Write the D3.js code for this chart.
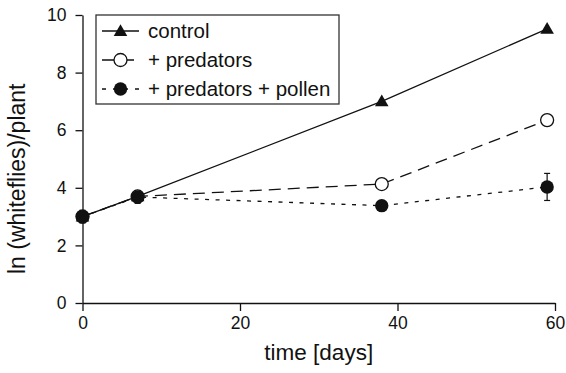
<!DOCTYPE html>
<html>
<head>
  <script src="https://cdn.jsdelivr.net/npm/d3@7/dist/d3.min.js"></script>
  <style>
    body { margin: 0; background: white; }
    text { font-family: Arial, "Liberation Sans", Helvetica, sans-serif; fill: #111; }
  </style>
</head>
<body>
  <script>
    const days = [0, 7, 38, 59]
    const control = [3.0, 3.7, 7.0, 9.52]
    const predators = [3.0, 3.7, 4.13, 6.35]
    const pollen = [3.0, 3.68, 3.38, 4.03]
    const pollenErr = [0.22, 0.22, 0, 0.47]
    const xTicks = [0, 20, 40, 60]
    const yTicks = [0, 2, 4, 6, 8, 10]
    const labels = ['control', '+ predators', '+ predators + pollen']

    const W = 566, H = 373
    const svg = d3.select('body').append('svg')
      .attr('width', W).attr('height', H)

    const x = d3.scaleLinear().domain([0, 60]).range([82.5, 555])
    const y = d3.scaleLinear().domain([0, 10]).range([303, 15])

    // axes
    const xAxis = svg.append('g').attr('transform', `translate(0,${y(0)})`)
      .call(d3.axisBottom(x).tickValues(xTicks).tickSize(8).tickSizeOuter(0).tickPadding(6))
    const yAxis = svg.append('g').attr('transform', `translate(${x(0)},0)`)
      .call(d3.axisLeft(y).tickValues(yTicks).tickSize(7).tickSizeOuter(0).tickPadding(9))
    ;[xAxis, yAxis].forEach(a => {
      a.selectAll('path').attr('stroke', '#111').attr('stroke-width', 1.3)
      a.selectAll('line').attr('stroke', '#111').attr('stroke-width', 1.3)
      a.selectAll('text').style('font-size', '17.5px').attr('fill', '#111')
    })

    svg.append('text')
      .attr('x', (x(0) + x(60)) / 2).attr('y', 360)
      .attr('text-anchor', 'middle').style('font-size', '22.5px')
      .text('time [days]')
    svg.append('text')
      .attr('transform', 'translate(25,274) rotate(-90)')
      .attr('text-anchor', 'start').style('font-size', '23px')
      .text('ln (whiteflies)/plant')

    const line = d3.line().x((d, i) => x(days[i])).y(d => y(d))
    const styles = [
      { data: control, dash: null },
      { data: predators, dash: '12,7' },
      { data: pollen, dash: '4,6.5' }
    ]
    styles.forEach(s => {
      svg.append('path')
        .attr('d', line(s.data))
        .attr('fill', 'none')
        .attr('stroke', '#111')
        .attr('stroke-width', 1.3)
        .attr('stroke-dasharray', s.dash)
    })

    // error bars (pollen)
    const eb = svg.append('g').attr('stroke', '#111').attr('stroke-width', 1.2)
    pollen.forEach((v, i) => {
      if (!pollenErr[i]) return
      const cx = x(days[i])
      const y1 = y(v - pollenErr[i]), y2 = y(v + pollenErr[i])
      eb.append('line').attr('x1', cx).attr('x2', cx).attr('y1', y1).attr('y2', y2)
      eb.append('line').attr('x1', cx - 3).attr('x2', cx + 3).attr('y1', y1).attr('y2', y1)
      eb.append('line').attr('x1', cx - 3).attr('x2', cx + 3).attr('y1', y2).attr('y2', y2)
    })

    const tri = d3.symbol().type(d3.symbolTriangle).size(80)
    function triangle(g, cx, cy) {
      g.append('path').attr('d', tri()).attr('transform', `translate(${cx},${cy + 1})`)
        .attr('fill', '#111')
    }
    function openCircle(g, cx, cy) {
      g.append('circle').attr('cx', cx).attr('cy', cy).attr('r', 6.5)
        .attr('fill', 'white').attr('stroke', '#111').attr('stroke-width', 1.3)
    }
    function fullCircle(g, cx, cy) {
      g.append('circle').attr('cx', cx).attr('cy', cy).attr('r', 6.7)
        .attr('fill', '#111')
    }
    const markers = [triangle, openCircle, fullCircle]

    styles.forEach((s, k) => {
      s.data.forEach((v, i) => markers[k](svg, x(days[i]), y(v)))
    })

    // legend
    const lg = svg.append('g')
    lg.append('rect').attr('x', 96).attr('y', 15).attr('width', 243).attr('height', 89)
      .attr('fill', 'white').attr('stroke', '#333').attr('stroke-width', 1.3)
    const rowY = [31, 60, 89]
    labels.forEach((t, k) => {
      lg.append('line').attr('x1', 102).attr('x2', 139)
        .attr('y1', rowY[k]).attr('y2', rowY[k])
        .attr('stroke', '#111').attr('stroke-width', 1.3)
        .attr('stroke-dasharray', k === 2 ? '4,7' : (k === 1 ? '12,8' : null))
      markers[k](lg, 120.5, rowY[k])
      lg.append('text').attr('x', 148).attr('y', rowY[k] + 7)
        .style('font-size', '20.5px').text(t)
    })
  </script>
</body>
</html>
